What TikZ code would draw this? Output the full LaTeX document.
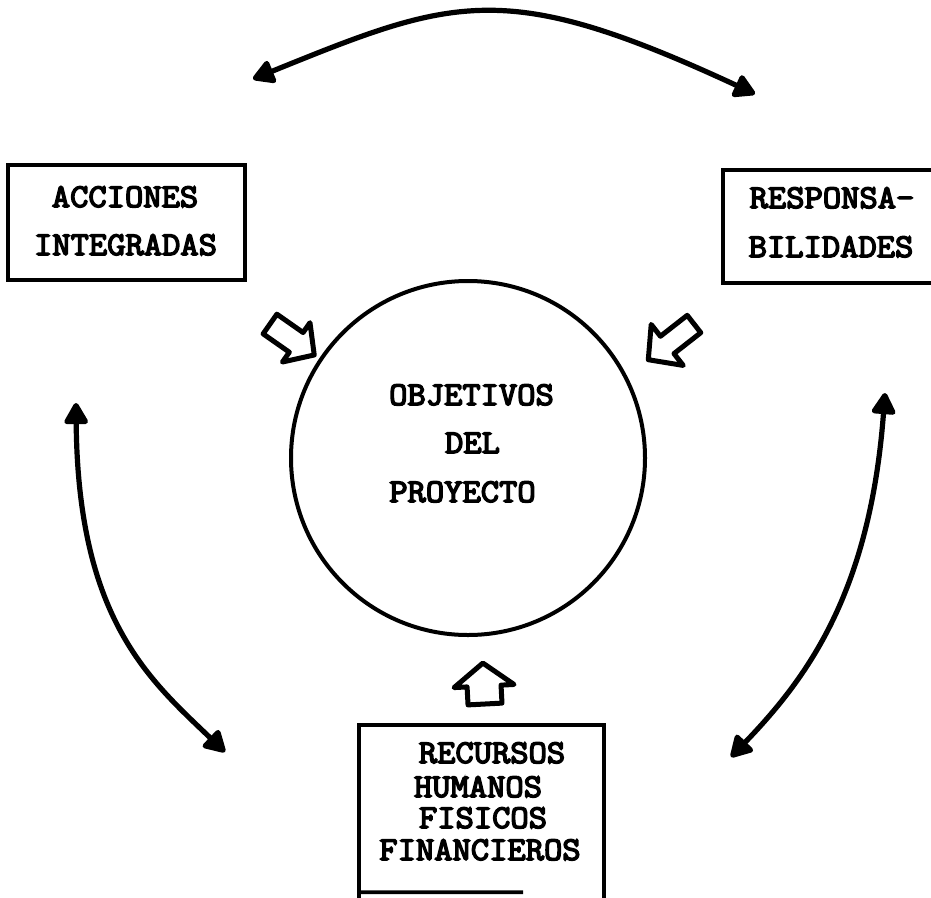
\documentclass[tikz,border=0pt]{standalone}
\usepackage{fontspec}
\newfontfamily\twfont{Latin Modern Mono}[FakeBold=4.5,FakeStretch=1.07]
\usetikzlibrary{arrows.meta,calc}
\begin{document}
\begin{tikzpicture}[x=1pt,y=-1pt,
  lbl/.style={font=\fontsize{33.2}{33.2}\selectfont\twfont, inner sep=0pt, anchor=base},
  boxline/.style={line width=3.6pt},
  link/.style={line width=5.2pt, {Triangle[length=24pt,width=26pt,round]}-{Triangle[length=24pt,width=26pt,round]}},
  hollow/.style={line width=5pt, line join=round, fill=white},
  pics/blockarr/.style n args={4}{code={\draw[hollow] (0,-#2) -- (#1-#4,-#2) -- (#1-#4,-#3) -- (#1,0) -- (#1-#4,#3) -- (#1-#4,#2) -- (0,#2) -- cycle;}}
]
\useasboundingbox (0,0) rectangle (931,897);
\fill[white] (0,0) rectangle (931,897);

% boxes
\node[draw, boxline, minimum width=237pt, minimum height=115pt, inner sep=0pt] (acc) at (126.5,222.5) {};
\node[draw, boxline, minimum width=240pt, minimum height=113pt, inner sep=0pt] (res) at (843,226.5) {};
\node[minimum width=245pt, minimum height=167pt, inner sep=0pt] (rec) at (481.5,808.5) {};
\draw[boxline] ([yshift=-10pt]rec.south west) -- (rec.north west) -- (rec.north east) -- ([yshift=-10pt]rec.south east);
\draw[boxline] (rec.south west) -- ($(rec.south west)!0.67!(rec.south east)$);

% circle
\node[draw, circle, line width=4pt, minimum size=354pt, inner sep=0pt] (obj) at (468,458) {};

% texts
\node[lbl] (t1) at (125,207) {ACCIONES};
\node[lbl] (t2) at (125.5,255) {INTEGRADAS};
\node[lbl] (t3) at (832,208) {RESPONSA-};
\node[lbl] (t4) at (831,257) {BILIDADES};
\node[lbl] (t5) at (471.5,405) {OBJETIVOS};
\node[lbl] (t6) at (472.5,453) {DEL};
\node[lbl] (t7) at (462.5,502) {PROYECTO};
\node[lbl] (t8) at (492,763) {RECURSOS};
\node[lbl] (t9) at (478,797) {HUMANOS};
\node[lbl] (t10) at (483,828) {FISICOS};
\node[lbl] (t11) at (480,860) {FINANCIEROS};

% hollow arrows
\pic[rotate=-35] at (270,324) {blockarr={54}{12}{24}{22}};
\pic[rotate=-142] at (694,324) {blockarr={58}{11}{26}{24}};
\pic[rotate=93] at (485,704) {blockarr={41}{17}{30}{23}};

% double-headed arcs
\coordinate (a1) at (253,79);
\coordinate (a2) at (755,94);
\coordinate (b1) at (76,403);
\coordinate (b2) at (225,752);
\coordinate (c1) at (885,393);
\coordinate (c2) at (731,757);
\draw[link] (a1) .. controls (455,-3) and (505,-22) .. (a2);
\draw[link] (b1) .. controls (78,620) and (150,680) .. (b2);
\draw[link] (c1) .. controls (870,593) and (807,678) .. (c2);
\end{tikzpicture}
\end{document}
